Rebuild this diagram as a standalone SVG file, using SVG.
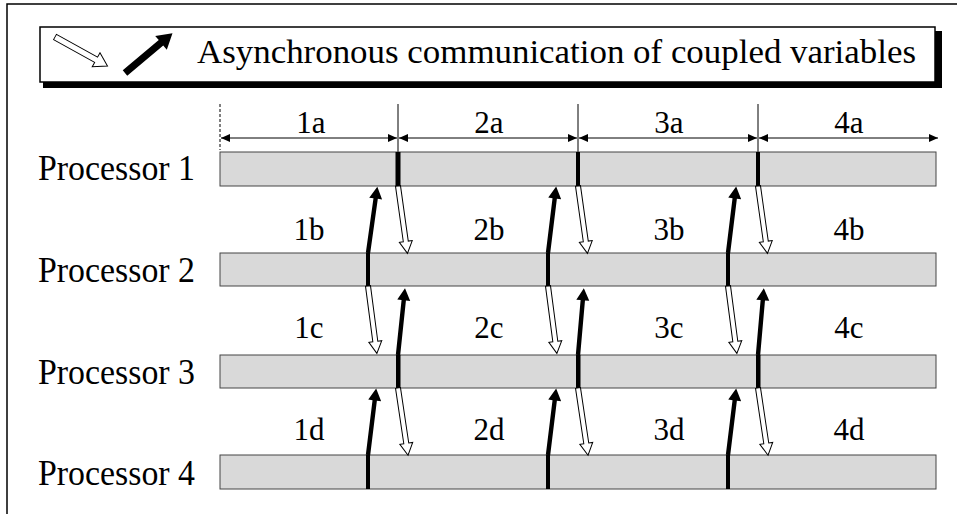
<svg xmlns="http://www.w3.org/2000/svg" xmlns:xlink="http://www.w3.org/1999/xlink" width="957" height="514" viewBox="0 0 957 514">
  <style>
    .txt { font-family: "Liberation Serif", "Times New Roman", serif; font-size: 31px; fill: #000; }
    .proc { font-size: 36px; }
    .title { font-size: 34px; }
    .lbl { text-anchor: middle; }
    .bar { fill: #d9d9d9; stroke: #444; stroke-width: 1; }
    .mark { fill: #000; }
    .dim { stroke: #000; stroke-width: 1; fill: none; }
    .tick { stroke: #000; stroke-width: 1; }
    .hollow { fill: #fff; stroke: #000; stroke-width: 1; stroke-linejoin: miter; }
    .solid { fill: #000; stroke: none; }
  </style>
  <defs>
    <!-- open arrow, pointing down, length 68 -->
    <polygon id="hollowArrow" class="hollow" points="-2.5,0 2.5,0 2.5,56 6.5,56 0,68 -6.5,56 -2.5,56"/>
    <!-- filled arrow, pointing up, length 67 -->
    <polygon id="solidArrow" class="solid" points="-2.2,0 2.2,0 2.2,-55 6.5,-55 0,-67 -6.5,-55 -2.2,-55"/>
    <marker id="dimL" markerWidth="10" markerHeight="8" refX="0" refY="4" orient="auto" markerUnits="userSpaceOnUse">
      <path d="M0,4 L9,0 L9,8 Z" fill="#000"/>
    </marker>
    <marker id="dimR" markerWidth="10" markerHeight="8" refX="9" refY="4" orient="auto" markerUnits="userSpaceOnUse">
      <path d="M9,4 L0,0 L0,8 Z" fill="#000"/>
    </marker>
  </defs>

  <rect x="0" y="0" width="957" height="514" fill="#fff"/>

  <!-- outer frame (top and left edges) -->
  <path d="M7,514 V4 H957" fill="none" stroke="#000" stroke-width="1.5"/>

  <!-- legend box -->
  <g id="legend">
    <rect x="43" y="31" width="899" height="57" fill="#000"/>
    <rect x="40" y="27" width="895" height="55" fill="#fff" stroke="#000" stroke-width="1.5"/>
    <g transform="translate(55,37) rotate(-61)">
      <polygon class="hollow" points="-3,0 3,0 3,47 8,47 0,60 -8,47 -3,47"/>
    </g>
    <g transform="translate(125,73) rotate(50)">
      <polygon class="solid" points="-3.5,0 3.5,0 3.5,-47 9,-47 0,-62 -9,-47 -3.5,-47"/>
    </g>
    <text class="txt title" x="197" y="63" textLength="719" lengthAdjust="spacingAndGlyphs">Asynchronous communication of coupled variables</text>
  </g>

  <!-- time-interval dimension line -->
  <g id="intervals">
    <line class="tick" x1="220" y1="104" x2="220" y2="150" stroke-dasharray="3 2"/>
    <line class="tick" x1="398" y1="104" x2="398" y2="152"/>
    <line class="tick" x1="578" y1="104" x2="578" y2="152"/>
    <line class="tick" x1="758" y1="104" x2="758" y2="152"/>
    <line class="dim" x1="221" y1="138" x2="397" y2="138" marker-start="url(#dimL)" marker-end="url(#dimR)"/>
    <line class="dim" x1="399" y1="138" x2="577" y2="138" marker-start="url(#dimL)" marker-end="url(#dimR)"/>
    <line class="dim" x1="579" y1="138" x2="757" y2="138" marker-start="url(#dimL)" marker-end="url(#dimR)"/>
    <line class="dim" x1="759" y1="138" x2="938" y2="138" marker-start="url(#dimL)" marker-end="url(#dimR)"/>
  </g>

  <!-- processor 1 -->
  <g id="processor1">
    <text class="txt proc" x="38" y="180" textLength="157" lengthAdjust="spacingAndGlyphs">Processor 1</text>
    <rect class="bar" x="220" y="152" width="716" height="34"/>
    <rect class="mark" x="395.5" y="152" width="5" height="34"/>
    <rect class="mark" x="576" y="152" width="4" height="34"/>
    <rect class="mark" x="756" y="152" width="4" height="34"/>
  </g>

  <!-- processor 2 -->
  <g id="processor2">
    <text class="txt proc" x="38" y="282" textLength="157" lengthAdjust="spacingAndGlyphs">Processor 2</text>
    <rect class="bar" x="220" y="253" width="716" height="33"/>
    <rect class="mark" x="366" y="253" width="4" height="33"/>
    <rect class="mark" x="546" y="253" width="4" height="33"/>
    <rect class="mark" x="726" y="253" width="4" height="33"/>
  </g>

  <!-- processor 3 -->
  <g id="processor3">
    <text class="txt proc" x="38" y="384" textLength="157" lengthAdjust="spacingAndGlyphs">Processor 3</text>
    <rect class="bar" x="220" y="355" width="716" height="33"/>
    <rect class="mark" x="396" y="355" width="4.5" height="33"/>
    <rect class="mark" x="576" y="355" width="4.5" height="33"/>
    <rect class="mark" x="756" y="355" width="4.5" height="33"/>
  </g>

  <!-- processor 4 -->
  <g id="processor4">
    <text class="txt proc" x="38" y="485" textLength="157" lengthAdjust="spacingAndGlyphs">Processor 4</text>
    <rect class="bar" x="220" y="455" width="716" height="34"/>
    <rect class="mark" x="366" y="455" width="4" height="34"/>
    <rect class="mark" x="546" y="455" width="4" height="34"/>
    <rect class="mark" x="726" y="455" width="4" height="34"/>
  </g>

  <!-- interval labels -->
  <g id="labels">
    <text class="txt lbl" x="311" y="133">1a</text>
    <text class="txt lbl" x="489" y="133">2a</text>
    <text class="txt lbl" x="669" y="133">3a</text>
    <text class="txt lbl" x="849" y="133">4a</text>
    <text class="txt lbl" x="309" y="240">1b</text>
    <text class="txt lbl" x="489" y="240">2b</text>
    <text class="txt lbl" x="669" y="240">3b</text>
    <text class="txt lbl" x="849" y="240">4b</text>
    <text class="txt lbl" x="309" y="338">1c</text>
    <text class="txt lbl" x="489" y="338">2c</text>
    <text class="txt lbl" x="669" y="338">3c</text>
    <text class="txt lbl" x="849" y="338">4c</text>
    <text class="txt lbl" x="309" y="440">1d</text>
    <text class="txt lbl" x="489" y="440">2d</text>
    <text class="txt lbl" x="669" y="440">3d</text>
    <text class="txt lbl" x="849" y="440">4d</text>
  </g>

  <!-- coupled-variable exchanges -->
  <g id="connectors">
    <!-- between processor 1 and 2 -->
    <use xlink:href="#solidArrow" transform="translate(368,253) rotate(8)"/>
    <use xlink:href="#solidArrow" transform="translate(548,253) rotate(7)"/>
    <use xlink:href="#solidArrow" transform="translate(728,253) rotate(7)"/>
    <use xlink:href="#hollowArrow" transform="translate(398,186) rotate(-8)"/>
    <use xlink:href="#hollowArrow" transform="translate(578,186) rotate(-8)"/>
    <use xlink:href="#hollowArrow" transform="translate(758,186) rotate(-8)"/>
    <!-- between processor 2 and 3 -->
    <use xlink:href="#hollowArrow" transform="translate(368,286) rotate(-7.5)"/>
    <use xlink:href="#hollowArrow" transform="translate(548,286) rotate(-7.5)"/>
    <use xlink:href="#hollowArrow" transform="translate(728,286) rotate(-7.5)"/>
    <use xlink:href="#solidArrow" transform="translate(398,355) rotate(6)"/>
    <use xlink:href="#solidArrow" transform="translate(578,355) rotate(5)"/>
    <use xlink:href="#solidArrow" transform="translate(758,355) rotate(5)"/>
    <!-- between processor 3 and 4 -->
    <use xlink:href="#solidArrow" transform="translate(368,455) rotate(7)"/>
    <use xlink:href="#solidArrow" transform="translate(548,455) rotate(7)"/>
    <use xlink:href="#solidArrow" transform="translate(728,455) rotate(7)"/>
    <use xlink:href="#hollowArrow" transform="translate(398,388) rotate(-8.5)"/>
    <use xlink:href="#hollowArrow" transform="translate(578,388) rotate(-8.5)"/>
    <use xlink:href="#hollowArrow" transform="translate(758,388) rotate(-8.5)"/>
  </g>
</svg>
